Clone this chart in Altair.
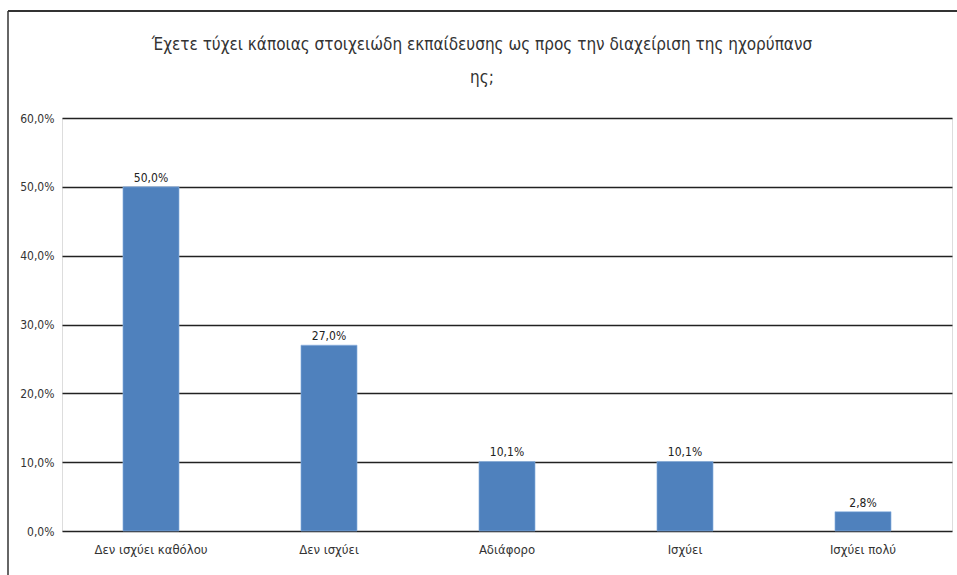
import altair as alt
import pandas as pd

categories = ["Δεν ισχύει καθόλου", "Δεν ισχύει", "Αδιάφορο", "Ισχύει", "Ισχύει πολύ"]
values = [50.0, 27.0, 10.1, 10.1, 2.8]
title_lines = ["Έχετε τύχει κάποιας στοιχειώδη εκπαίδευσης ως προς την διαχείριση της ηχορύπανσ", "ης;"]

df = pd.DataFrame({"cat": categories, "val": values})
df["label"] = df["val"].map(lambda v: f"{v:.1f}".replace(".", ",") + "%")

FONT = "Liberation Sans Narrow, DejaVu Sans Condensed, sans-serif"
W, H = 890, 413

base = alt.Chart(df)

bars = base.mark_bar(color="#4F81BD", stroke="#8DB3E2", strokeWidth=0.6).encode(
    x=alt.X("cat:N", sort=categories, title=None,
            scale=alt.Scale(paddingInner=0.685, paddingOuter=0.3425),
            axis=alt.Axis(labelAngle=0, labelFont=FONT, labelFontSize=13,
                          labelColor="#333333", labelPadding=12, ticks=False,
                          domain=False)),
    y=alt.Y("val:Q", title=None,
            scale=alt.Scale(domain=[0, 60]),
            axis=alt.Axis(values=[0, 10, 20, 30, 40, 50, 60], labelFont=FONT,
                          labelFontSize=12, labelColor="#333333", labelPadding=8,
                          ticks=False, domain=False, grid=True, gridColor="#222222",
                          gridWidth=1.5,
                          labelExpr="replace(format(datum.value, '.1f'), '.', ',') + '%'")),
)

text = base.mark_text(dy=-9, font=FONT, fontSize=12, color="#222222").encode(
    x=alt.X("cat:N", sort=categories),
    y="val:Q",
    text="label:N",
)


def heading_line(line, y_px):
    return alt.Chart(pd.DataFrame({"t": [line]})).mark_text(
        font=FONT, fontSize=17, color="#333333", align="center", baseline="middle"
    ).encode(x=alt.value(420), y=alt.value(y_px), text="t:N")


heading1 = heading_line(title_lines[0], -73)
heading2 = heading_line(title_lines[1], -40)

# frame lines along the top and left of the figure
frame_top = alt.Chart(pd.DataFrame({"k": [0]})).mark_rule(color="#333333", strokeWidth=2).encode(
    x=alt.value(-54), x2=alt.value(W + 10), y=alt.value(-107)
)
frame_left = alt.Chart(pd.DataFrame({"k": [0]})).mark_rule(color="#333333", strokeWidth=1.5).encode(
    x=alt.value(-54), y=alt.value(-107), y2=alt.value(H + 60)
)

chart = alt.layer(bars, text, heading1, heading2, frame_top, frame_left).properties(
    width=W, height=H,
    padding={"left": 62, "top": 118, "right": 5, "bottom": 44},
    autosize=alt.AutoSizeParams(type="none"),
).configure_view(stroke=None).configure(background="white")

chart.save("out.html", embed_options={"renderer": "svg", "actions": False})
